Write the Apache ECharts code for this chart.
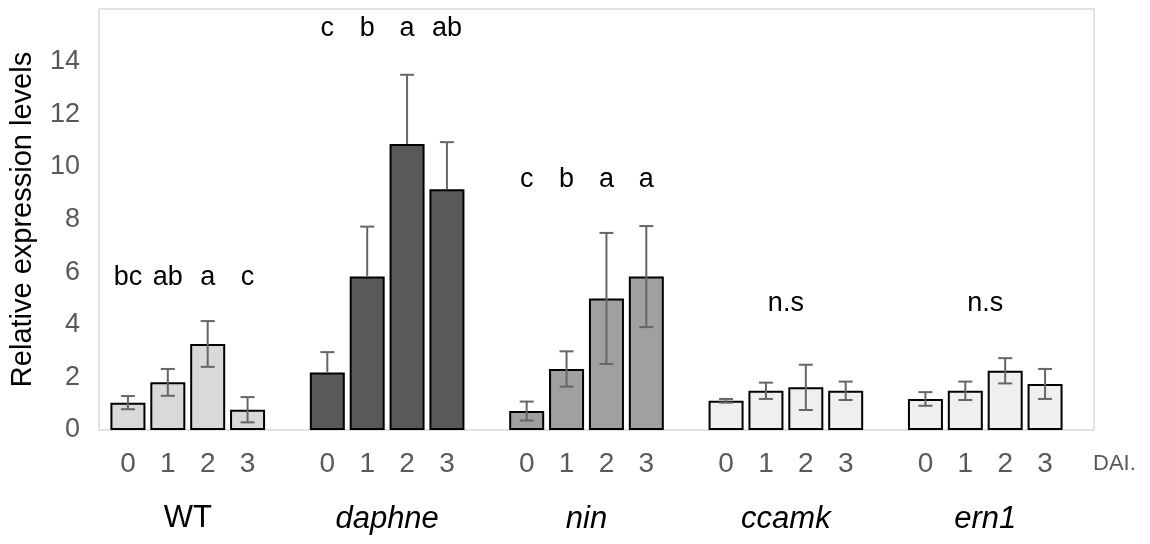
<!DOCTYPE html>
<html>
<head>
<meta charset="utf-8">
<script src="https://cdn.jsdelivr.net/npm/echarts@6/dist/echarts.min.js"></script>
<style>
    html, body {margin: 0; padding: 0; background: #fff;}
    #main {width: 1150px; height: 544px;}
</style>
</head>
<body>
<div id="main"></div>
<script>
// 组名 / 天数
let groups = ['WT', 'daphne', 'nin', 'ccamk', 'ern1'];
let days = ['0', '1', '2', '3'];

// 平均值 与 误差
let wtMean = [1.04, 1.81, 3.27, 0.77], wtErr = [0.25, 0.51, 0.87, 0.48];
let daphneMean = [2.19, 5.83, 10.87, 9.15], daphneErr = [0.77, 1.90, 2.63, 1.79];
let ninMean = [0.72, 2.32, 5.00, 5.83], ninErr = [0.36, 0.67, 2.49, 1.92];
let ccamkMean = [1.11, 1.49, 1.62, 1.49], ccamkErr = [0.07, 0.31, 0.86, 0.35];
let ern1Mean = [1.18, 1.49, 2.25, 1.75], ern1Err = [0.26, 0.35, 0.48, 0.57];

// 显著性字母
let wtLetters = ['bc', 'ab', 'a', 'c'];
let daphneLetters = ['c', 'b', 'a', 'ab'];
let ninLetters = ['c', 'b', 'a', 'a'];
let nsLabel = 'n.s';
let letterLevel = [5.8, 15.27, 9.5, 4.8, 4.8];
let groupLabelLevel = -3.38;

// 样式
let barColors = ['#d9d9d9', '#595959', '#a0a0a0', '#efefef', '#efefef'];
let italicGroup = [false, true, true, true, true];
let plusOnly = [false, true, false, false, false];
let font = "'Liberation Sans', Arial, sans-serif";

let means = [wtMean, daphneMean, ninMean, ccamkMean, ern1Mean];
let errs = [wtErr, daphneErr, ninErr, ccamkErr, ern1Err];
let letters = [wtLetters, daphneLetters, ninLetters, null, null];

let categories = [], barData = [], errData = [], notes = [];
for (let g = 0; g < groups.length; g++) {
    for (let k = 0; k < days.length; k++) {
        let idx = categories.length;
        categories.push(days[k]);
        barData.push({value: means[g][k], itemStyle: {color: barColors[g]}});
        let lo = plusOnly[g] ? means[g][k] : means[g][k] - errs[g][k];
        errData.push([idx, lo, means[g][k] + errs[g][k], plusOnly[g] ? 0 : 1]);
        if (letters[g]) {
            notes.push({idx: idx, y: letterLevel[g], shift: 0, text: letters[g][k], size: 27, italic: false});
        }
    }
    let first = categories.length - 4;
    if (!letters[g]) {
        notes.push({idx: first + 1, y: letterLevel[g], shift: 0.5, text: nsLabel, size: 27, italic: false});
    }
    notes.push({idx: first + 1, y: groupLabelLevel, shift: 0.5, text: groups[g], size: 31, italic: italicGroup[g]});
    if (g < groups.length - 1) {
        categories.push('');
        barData.push(null);
    }
}

let myChart = echarts.init(document.getElementById('main'));
let option = {
    animation: false,
    textStyle: {fontFamily: font},
    grid: [
        {left: 108, right: 85, top: 9, bottom: 114},
        {left: 97, right: 56, top: 9, bottom: 114, show: true, borderColor: '#d9d9d9', borderWidth: 1.5}
    ],
    xAxis: [
        {
            type: 'category', gridIndex: 0, data: categories,
            axisLine: {show: false}, axisTick: {show: false},
            axisLabel: {color: '#595959', fontSize: 28, margin: 20, interval: 0, fontFamily: font},
            name: 'DAI.', nameLocation: 'end', nameGap: 28,
            nameTextStyle: {color: '#595959', fontSize: 22, verticalAlign: 'top', padding: [23, 0, 0, 0], fontFamily: font}
        },
        {type: 'value', gridIndex: 1, show: false}
    ],
    yAxis: [
        {type: 'value', gridIndex: 0, min: 0, max: 16, interval: 2, show: false},
        {
            type: 'value', gridIndex: 1, min: 0, max: 16, interval: 2,
            axisLine: {show: false}, axisTick: {show: false}, splitLine: {show: false},
            axisLabel: {color: '#595959', fontSize: 27, margin: 19, showMaxLabel: false, fontFamily: font},
            name: 'Relative expression levels', nameLocation: 'middle', nameRotate: 90, nameGap: 62,
            nameTextStyle: {color: '#000', fontSize: 29, fontFamily: font}
        }
    ],
    series: [
        {
            type: 'bar', xAxisIndex: 0, yAxisIndex: 0, data: barData, barWidth: 35,
            itemStyle: {borderColor: '#000', borderWidth: 2}
        },
        {
            type: 'custom', xAxisIndex: 0, yAxisIndex: 0, data: errData, z: 5,
            renderItem: function (params, api) {
                let x = api.value(0);
                let lo = api.coord([x, api.value(1)]);
                let hi = api.coord([x, api.value(2)]);
                let cap = 7;
                let style = {stroke: '#666666', lineWidth: 2};
                let children = [
                    {type: 'line', shape: {x1: hi[0], y1: hi[1], x2: lo[0], y2: lo[1]}, style: style},
                    {type: 'line', shape: {x1: hi[0] - cap, y1: hi[1], x2: hi[0] + cap, y2: hi[1]}, style: style}
                ];
                if (api.value(3)) {
                    children.push({type: 'line', shape: {x1: lo[0] - cap, y1: lo[1], x2: lo[0] + cap, y2: lo[1]}, style: style});
                }
                return {type: 'group', children: children};
            }
        },
        {
            type: 'custom', xAxisIndex: 0, yAxisIndex: 0, data: notes.map(n => [n.idx, n.y]), z: 6, clip: false,
            renderItem: function (params, api) {
                let n = notes[params.dataIndex];
                let p = api.coord([n.idx, n.y]);
                let w = api.size([1, 0])[0];
                return {
                    type: 'text',
                    x: p[0] + n.shift * w, y: p[1],
                    style: {
                        text: n.text, fill: '#000', fontSize: n.size, fontFamily: font,
                        fontStyle: n.italic ? 'italic' : 'normal', align: 'center', verticalAlign: 'middle'
                    }
                };
            }
        }
    ]
};
myChart.setOption(option);
</script>
</body>
</html>
